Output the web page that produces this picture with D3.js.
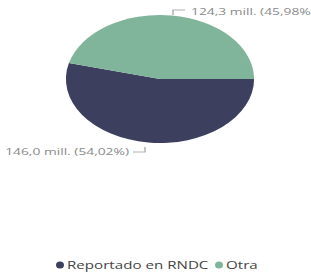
<!DOCTYPE html>
<html>
<head>
<meta charset="utf-8">
<script src="https://cdn.jsdelivr.net/npm/d3@7"></script>
<style>
  body { margin: 0; background: #fff; }
  text { font-family: "Segoe UI", "Open Sans", sans-serif; }
</style>
</head>
<body>
<div class="chart"></div>
<script>
var categories = ["Reportado en RNDC", "Otra"];
var values = [146.0, 124.3];
var valueLabels = ["146,0 mill. (54,02%)", "124,3 mill. (45,98%)"];
var colors = ["#3d3f5f", "#80b59b"];

var svgWidth = 311;
var svgHeight = 276;
// picture is stretched sideways, so draw in a squeezed space and scale x
var sx = 1.47;

var svg = d3.select(".chart")
  .append("svg")
  .attr("width", svgWidth)
  .attr("height", svgHeight);

var g = svg.append("g")
  .attr("transform", `scale(${sx}, 1)`);

var cx = 160 / sx, cy = 79, r = 64;

var pie = d3.pie()
  .sort(null)
  .value(function(d) { return d; })
  .startAngle(Math.PI / 2)
  .endAngle(Math.PI / 2 + 2 * Math.PI);

var arc = d3.arc().innerRadius(0).outerRadius(r);

var pieGroup = g.append("g")
  .attr("transform", `translate(${cx}, ${cy})`);

pieGroup.selectAll("path")
  .data(pie(values))
  .enter()
  .append("path")
  .attr("d", arc)
  .attr("fill", function(d, i) { return colors[i]; });

// labels with leader lines
var grey = "#8a8a8a";
// Otra (top right)
g.append("polyline")
  .attr("points", [[173 / sx, 15], [173 / sx, 10], [185 / sx, 10]].join(" "))
  .attr("fill", "none").attr("stroke", "#b0b0b0").attr("stroke-width", 1);
g.append("text")
  .attr("x", 191 / sx).attr("y", 15)
  .attr("font-size", "9.4px").attr("fill", grey)
  .text(valueLabels[1]);

// Reportado (bottom left)
g.append("polyline")
  .attr("points", [[133 / sx, 152], [145 / sx, 152], [145 / sx, 147]].join(" "))
  .attr("fill", "none").attr("stroke", "#b0b0b0").attr("stroke-width", 1);
g.append("text")
  .attr("x", 129 / sx).attr("y", 155)
  .attr("text-anchor", "end")
  .attr("font-size", "9.4px").attr("fill", grey)
  .text(valueLabels[0]);

// legend
var legendX = [60, 219];
var legend = g.selectAll(".legend")
  .data(categories)
  .enter()
  .append("g");

legend.append("ellipse")
  .attr("cx", function(d, i) { return legendX[i] / sx; })
  .attr("cy", 265)
  .attr("rx", 4 / sx)
  .attr("ry", 3.6)
  .attr("fill", function(d, i) { return colors[i]; });

legend.append("text")
  .attr("x", function(d, i) { return (legendX[i] + 7) / sx; })
  .attr("y", 269)
  .attr("font-size", "10.3px")
  .attr("fill", "#444")
  .text(function(d) { return d; });
</script>
</body>
</html>
